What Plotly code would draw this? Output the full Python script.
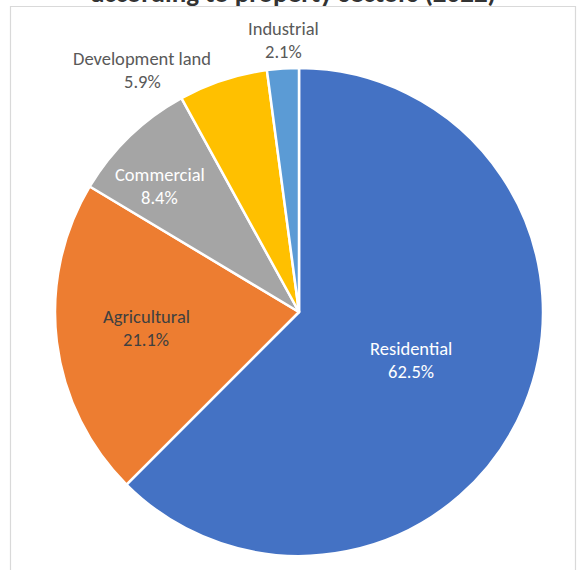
import math
import plotly.graph_objects as go

# Share of value by property sector, 2022 (%)
sectors = ["Residential", "Agricultural", "Commercial", "Development land", "Industrial"]
shares = [62.5, 21.1, 8.4, 5.9, 2.1]
colors = ["#4472C4", "#ED7D31", "#A5A5A5", "#FFC000", "#5B9BD5"]
label_colors = ["#FFFFFF", "#404040", "#FFFFFF", "#595959", "#595959"]

# Label placement: (fraction of radius from centre, angular shift in degrees from the slice bisector)
label_place = [(0.50, 0.5), (0.63, 1.0), (0.77, -4.0), (1.18, -14.8), (1.117, 0.6)]

W, H = 584, 570
CX, CY, R = 299, 312, 244          # pie centre and radius in pixels
LINE_GAP = 23                      # distance between name and value lines
FONT = "Calibri, Carlito, Lato, sans-serif"


def px(x):
    return x / W


def py(y):
    return 1 - y / H


fig = go.Figure(
    go.Pie(
        labels=sectors,
        values=shares,
        sort=False,
        direction="clockwise",
        rotation=0,
        marker=dict(colors=colors, line=dict(color="white", width=2.5)),
        textinfo="none",
        hoverinfo="label+percent",
        domain=dict(x=[px(CX - R), px(CX + R)], y=[py(CY + R), py(CY - R)]),
    )
)

# Data labels placed along each slice's bisector
annotations = []
total = sum(shares)
cum = 0.0
for name, val, col, (rf, shift) in zip(sectors, shares, label_colors, label_place):
    mid = (cum + val / 2) / total * 360 + shift
    cum += val
    lx = CX + rf * R * math.sin(math.radians(mid))
    ly = CY - rf * R * math.cos(math.radians(mid))
    for text, dy in ((name, -LINE_GAP / 2), (f"{val:.1f}%", LINE_GAP / 2)):
        annotations.append(
            dict(
                text=text, x=px(lx), y=py(ly + dy), xref="paper", yref="paper",
                xanchor="center", yanchor="middle", showarrow=False,
                font=dict(family=FONT, size=18.5, color=col),
            )
        )

# Chart title (second line)
annotations.append(
    dict(
        text="<b>according to property sectors (2022)</b>",
        x=px(293), y=py(11), xref="paper", yref="paper",
        xanchor="center", yanchor="bottom", showarrow=False,
        font=dict(family=FONT, size=27, color="#333333"),
    )
)

fig.update_layout(
    width=W,
    height=H,
    margin=dict(l=0, r=0, t=0, b=0),
    paper_bgcolor="white",
    plot_bgcolor="white",
    showlegend=False,
    annotations=annotations,
    shapes=[
        dict(
            type="rect", xref="paper", yref="paper",
            x0=px(10.5), x1=px(575.5), y0=py(H + 20), y1=py(6.5),
            line=dict(color="#D9D9D9", width=1.2), fillcolor="rgba(0,0,0,0)",
            layer="below",
        )
    ],
)

fig.write_html("out.html")
